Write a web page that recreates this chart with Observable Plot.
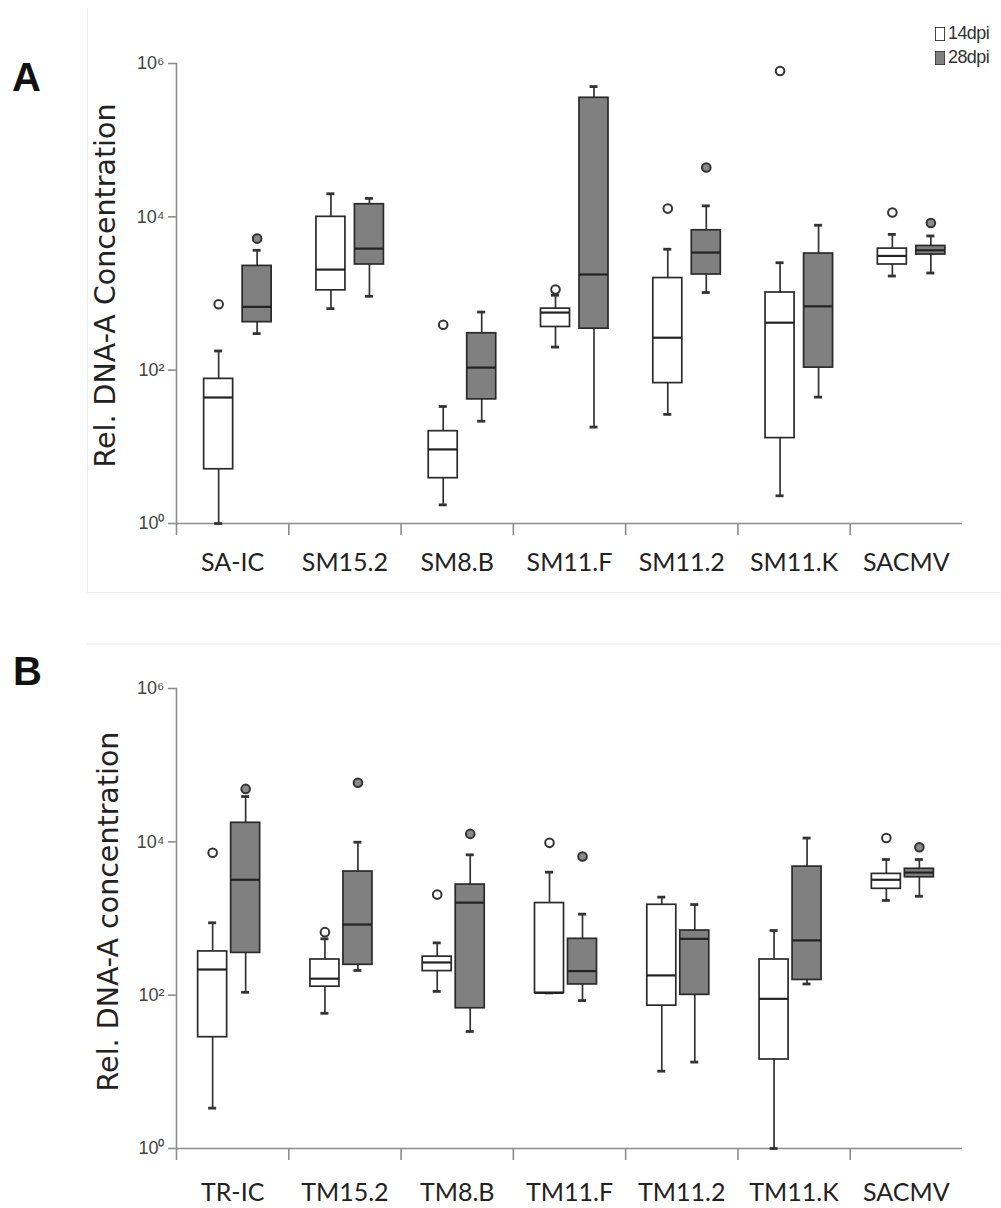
<!DOCTYPE html>
<html><head><meta charset="utf-8">
<script src="https://cdn.jsdelivr.net/npm/d3@7"></script>
<script src="https://cdn.jsdelivr.net/npm/@observablehq/plot@0.6"></script>
<style>
body{margin:0;background:#fff;}
#wrap{position:relative;width:1001px;height:1208px;overflow:hidden;}
#wrap svg{display:block;}
.letter{position:absolute;font-family:"Liberation Sans",Arial,sans-serif;font-weight:bold;font-size:40px;color:#111;}
.leg{position:absolute;font-family:"Liberation Sans",sans-serif;font-size:18px;color:#333;display:flex;align-items:center;letter-spacing:-0.6px;}
.leg i{display:inline-block;width:10px;height:14px;border:1.5px solid #444;margin-right:3px;box-sizing:border-box;}
.fl{position:absolute;background:#efefef;}
</style></head><body>
<div id="wrap"></div>
<script>
// ---------- data ----------
const categoriesA = ["SA-IC","SM15.2","SM8.B","SM11.F","SM11.2","SM11.K","SACMV"];
const categoriesB = ["TR-IC","TM15.2","TM8.B","TM11.F","TM11.2","TM11.K","SACMV"];
const seriesNames = ["14dpi","28dpi"];
// [lower whisker, Q1, median, Q3, upper whisker]
const panelA14 = [[1,5.1,44,77,178],[635,1100,2050,10000,20000],[1.75,3.9,9.25,16,33.6],[200,366,564,635,950],[26.5,67.8,265,1590,3780],[2.3,13,416,1030,2520],[1690,2390,3090,3850,5900]];
const panelA28 = [[300,423,670,2290,3660],[920,2390,3850,14600,17400],[21.6,41.6,108,303,573],[18.1,348,1770,357000,500000],[1030,1770,3420,6680,13900],[44.5,108,680,3320,7770],[1850,3220,3660,4170,5630]];
const outliersA14 = [724,null,392,1130,12800,800000,11400];
const outliersA28 = [5200,null,null,null,44000,null,8300];
const panelB14 = [[3.36,28.3,216,372,879],[58,129,164,292,543],[112,206,267,318,481],[107,107,107,1590,4020],[10.2,73,181,1510,1900],[1,14.5,89.6,292,697],[1720,2440,3200,3820,5880]];
const panelB28 = [[109,356,3200,17700,39000],[210,249,834,4100,9890],[33.6,67.5,1610,2770,6770],[85,138,206,543,1140],[13.4,101,543,697,1520],[140,158,518,4750,11200],[1950,3450,3970,4450,5880]];
const outliersB14 = [7190,664,2050,9700,null,null,11200];
const outliersB28 = [49000,59000,12700,6450,null,null,8510];
const yTicks = [1,100,10000,1000000];
const yTickLabels = ["10⁰","10²","10⁴","10⁶"];
const titleA = "Rel. DNA-A Concentration";
const titleB = "Rel. DNA-A concentration";

// ---------- layout ----------
const W = 1001, mL = 176, mR = 39;
const bw = (W - mL - mR) / 7;
const ins = (off, w) => ({insetLeft: bw/2 + off - w/2, insetRight: bw/2 - off - w/2});

function panel({cats, s14, s28, o14, o28, off14, off28, title, height, marginTop, marginBottom, labelPad, tdx, tdy}) {
  const rows = (s, ser) => cats.map((c, i) => ({cat: c, ser, lo: s[i][0], q1: s[i][1], med: s[i][2], q3: s[i][3], hi: s[i][4]}));
  const outs = (o) => cats.map((c, i) => ({cat: c, v: o[i]})).filter(d => d.v != null);
  const marks = [
    Plot.ruleY([1], {stroke: "#8c8c8c", strokeWidth: 1.6}),
    Plot.frame({anchor: "left", stroke: "#8c8c8c", strokeWidth: 1.6}),
    Plot.axisX({tickSize: 12, tickFormat: () => "", dx: -bw/2, stroke: "#8c8c8c", strokeWidth: 1.6, label: null}),
    Plot.axisX({tickSize: 0, tickPadding: labelPad, fontSize: 25, fontFamily: "Lato", fill: "#222", label: null}),
    Plot.axisY({ticks: yTicks, tickFormat: d => yTickLabels[yTicks.indexOf(d)], tickSize: 8, tickPadding: 4, stroke: "#8c8c8c", strokeWidth: 1.6, fontSize: 18, fontFamily: "Liberation Sans", fill: "#444", label: null}),
    Plot.text([title], {frameAnchor: "left", textAnchor: "middle", lineAnchor: "middle", dx: tdx, dy: tdy, rotate: -90, fontSize: 28.5, fontFamily: "DejaVu Sans", fill: "#222"})
  ];
  const specs = [[rows(s14, "14dpi"), off14, "#ffffff", outs(o14), "none"], [rows(s28, "28dpi"), off28, "#808080", outs(o28), "#8a8a8a"]];
  for (const [r, off, fill, o, ofill] of specs) {
    marks.push(
      Plot.ruleX(r, {x: "cat", y1: "lo", y2: "q1", dx: off, stroke: "#333", strokeWidth: 1.7}),
      Plot.ruleX(r, {x: "cat", y1: "q3", y2: "hi", dx: off, stroke: "#333", strokeWidth: 1.7}),
      Plot.tickY(r, {x: "cat", y: "lo", ...ins(off, 8), stroke: "#333", strokeWidth: 2.8}),
      Plot.tickY(r, {x: "cat", y: "hi", ...ins(off, 8), stroke: "#333", strokeWidth: 2.8}),
      Plot.barY(r, {x: "cat", y1: "q1", y2: "q3", ...ins(off, 29), fill, stroke: "#2a2a2a", strokeWidth: 1.7}),
      Plot.tickY(r, {x: "cat", y: "med", ...ins(off, 29), stroke: "#222", strokeWidth: 2.2}),
      Plot.dot(o, {x: "cat", y: "v", dx: off, r: 4.3, stroke: "#333", strokeWidth: 2, fill: ofill})
    );
  }
  return Plot.plot({
    width: W, height, marginLeft: mL, marginRight: mR, marginTop, marginBottom,
    x: {type: "band", domain: cats, padding: 0, round: false, axis: null, label: null},
    y: {type: "log", domain: [1, 1e6], axis: null, label: null},
    style: {background: "transparent", overflow: "visible"},
    marks
  });
}

const wrap = document.getElementById("wrap");
const svgA = panel({cats: categoriesA, s14: panelA14, s28: panelA28, o14: outliersA14, o28: outliersA28,
  off14: -14, off28: 24.5, title: titleA, height: 600, marginTop: 63, marginBottom: 77, labelPad: 30, tdx: -71, tdy: -8});
const svgB = panel({cats: categoriesB, s14: panelB14, s28: panelB28, o14: outliersB14, o28: outliersB28,
  off14: -20, off28: 13, title: titleB, height: 608, marginTop: 88, marginBottom: 60, labelPad: 35, tdx: -68, tdy: -7});
wrap.appendChild(svgA);
wrap.appendChild(svgB);

// faint panel frames
const add = (cls, css, html) => { const d = document.createElement("div"); d.className = cls; d.style.cssText = css; if (html) d.innerHTML = html; wrap.appendChild(d); };
add("fl", "left:87px;top:8px;width:1px;height:584px;");
add("fl", "left:87px;top:592px;width:914px;height:1px;");
add("fl", "left:87px;top:643px;width:914px;height:2px;background:#f4f4f4;");
add("letter", "left:12px;top:55px;", "A");
add("letter", "left:13px;top:649px;", "B");
add("leg", "left:935px;top:23px;", '<i style="background:#fff"></i>' + seriesNames[0]);
add("leg", "left:935px;top:47px;", '<i style="background:#808080"></i>' + seriesNames[1]);
</script>
</body></html>
